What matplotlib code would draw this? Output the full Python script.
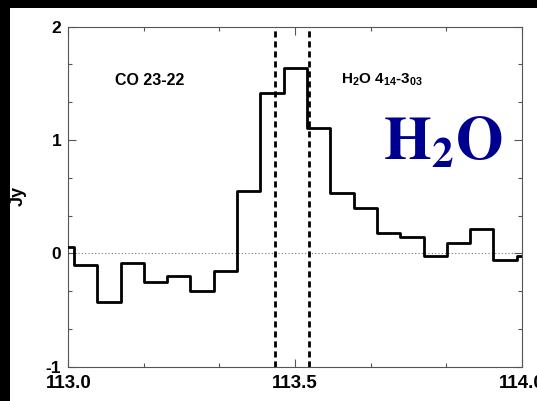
import matplotlib
matplotlib.use("Agg")
import matplotlib.pyplot as plt
from matplotlib.patches import Rectangle
from matplotlib.ticker import MultipleLocator, FixedLocator, FormatStrFormatter

plt.rcParams['font.family'] = ['Liberation Sans', 'DejaVu Sans']
plt.rcParams['axes.unicode_minus'] = False
plt.rcParams['mathtext.fontset'] = 'custom'
plt.rcParams['mathtext.rm'] = 'Liberation Sans:bold'
plt.rcParams['mathtext.it'] = 'Liberation Sans:italic'
plt.rcParams['mathtext.bf'] = 'Liberation Sans:bold'

# Data
freq = [112.987, 113.038, 113.090, 113.141, 113.192, 113.244, 113.295,
        113.347, 113.398, 113.449, 113.501, 113.552, 113.604, 113.655,
        113.706, 113.758, 113.809, 113.861, 113.912, 113.963, 114.015]
flux = [0.058, -0.103, -0.427, -0.088, -0.250, -0.200, -0.330,
        -0.153, 0.553, 1.412, 1.633, 1.103, 0.535, 0.397,
        0.176, 0.147, -0.024, 0.094, 0.214, -0.059, -0.024]
line_freqs = [113.456, 113.531]
xticks = [113.0, 113.5, 114.0]
yticks = [-1, 0, 1, 2]

W, H = 537, 401
fig = plt.figure(figsize=(W / 100, H / 100), dpi=100)
fig.patch.set_facecolor('white')
# black border bands (top and left)
fig.patches.append(Rectangle((0, 1 - 8 / H), 1, 8 / H, transform=fig.transFigure,
                             facecolor='black', edgecolor='none', zorder=-1))
fig.patches.append(Rectangle((0, 0), 10 / W, 1, transform=fig.transFigure,
                             facecolor='black', edgecolor='none', zorder=-1))

ax = fig.add_axes([68.3 / W, 34.3 / H, 453.4 / W, 340.0 / H])
ax.set_xlim(113.0, 114.0)
ax.set_ylim(-1, 2)

ax.step(freq, flux, where='mid', color='black', lw=2.0, zorder=3)
ax.axhline(0, color='#777777', lw=0.8, ls=(0, (1, 2)), zorder=1)
for lf in line_freqs:
    ax.axvline(lf, color='black', lw=2.0, ls=(0, (2.2, 1.4)), zorder=2)

ax.xaxis.set_major_locator(FixedLocator(xticks))
ax.xaxis.set_major_formatter(FormatStrFormatter('%.1f'))
ax.xaxis.set_minor_locator(MultipleLocator(1 / 6))
ax.yaxis.set_major_locator(FixedLocator(yticks))
ax.yaxis.set_minor_locator(MultipleLocator(1 / 3))

ax.tick_params(which='both', direction='in', top=True, right=True,
               color='#555555', width=0.8)
ax.tick_params(which='major', length=6)
ax.tick_params(which='minor', length=3)
ax.tick_params(axis='x', which='major', labelsize=13.5, pad=6)
ax.tick_params(axis='y', which='major', labelsize=12.5, pad=5)
for lab in ax.get_xticklabels() + ax.get_yticklabels():
    lab.set_fontweight('bold')
for sp in ax.spines.values():
    sp.set_color('#555555')
    sp.set_linewidth(0.8)

ax.text(113.103, 1.485, 'CO 23-22', fontsize=11.5, fontweight='bold',
        ha='left', va='baseline')
ax.text(113.601, 1.50, r'H$_2$O 4$_{14}$-3$_{03}$', fontsize=11,
        fontweight='bold', ha='left', va='baseline')
ax.text(113.693, 0.83, r'$\mathbf{H_2O}$', fontsize=44, ha='left', va='baseline',
        color='#00008f', math_fontfamily='stix')

fig.text(18 / W, 1 - 196 / H, 'Jy', rotation=90, fontsize=13, fontweight='bold',
         ha='center', va='center')

fig.savefig('out.png', dpi=100, facecolor=fig.get_facecolor())
